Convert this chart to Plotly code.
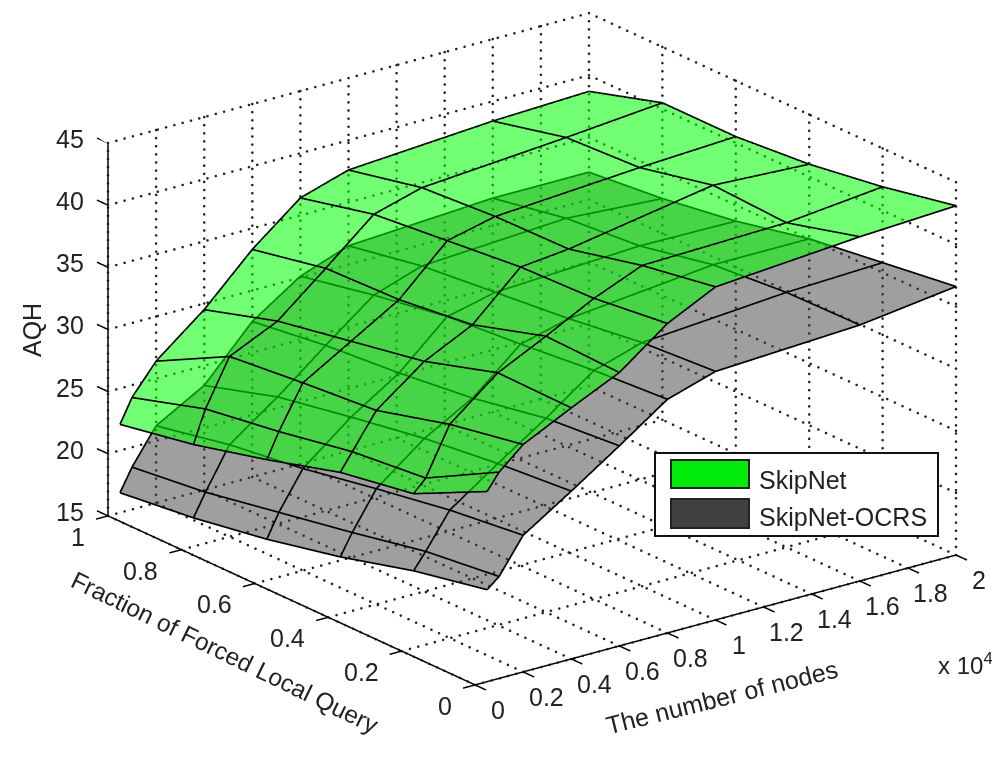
import numpy as np
import plotly.graph_objects as go

x_nodes = [500, 1000, 2000, 4000, 6000, 8000, 10000, 16000, 20000]
y_frac = [1.0, 0.8, 0.6, 0.4, 0.2, 0.0]
z_skipnet = [
    [22.1, 24.0, 26.4, 29.5, 33.3, 36.4, 37.6, 38.4, 38.7],
    [23.2, 25.8, 29.5, 31.3, 34.5, 37.8, 38.9, 39.8, 40.5],
    [24.7, 26.7, 30.1, 32.4, 34.7, 38.4, 39.3, 40.1, 40.5],
    [26.4, 27.8, 30.6, 33.5, 35.4, 39.0, 39.4, 41.4, 41.0],
    [27.4, 28.4, 32.2, 35.3, 37.2, 39.2, 40.8, 41.1, 41.9],
    [30.3, 31.6, 33.3, 35.2, 37.0, 39.9, 41.8, 42.7, 43.1],
]
z_ocrs = [
    [16.6, 18.4, 21.2, 23.4, 27.5, 30.1, 31.5, 32.2, 32.2],
    [17.3, 19.1, 22.4, 25.2, 28.3, 31.3, 32.6, 33.3, 32.8],
    [18.3, 20.2, 23.2, 26.3, 28.8, 32.3, 33.2, 33.8, 33.7],
    [19.6, 21.3, 24.3, 27.3, 29.5, 32.8, 33.8, 35.0, 35.0],
    [21.2, 22.5, 25.3, 28.0, 30.6, 33.4, 34.6, 35.5, 35.8],
    [22.4, 23.2, 26.0, 28.5, 31.1, 33.8, 35.0, 35.6, 36.6],
]
x_ticks = [0, 2000, 4000, 6000, 8000, 10000, 12000, 14000, 16000, 18000, 20000]
x_labels = ["0", "0.2", "0.4", "0.6", "0.8", "1", "1.2", "1.4", "1.6", "1.8", "2"]
y_ticks = [0, 0.2, 0.4, 0.6, 0.8, 1]
y_labels = ["0", "0.2", "0.4", "0.6", "0.8", "1"]
z_ticks = [15, 20, 25, 30, 35, 40, 45]
z_labels = ["15", "20", "25", "30", "35", "40", "45"]

FONT = "Liberation Sans"
INK = "#222"
XMAX, YMAX, ZMIN, ZMAX = 20000, 1, 15, 45
W, H = 992, 749


def segs(pairs):
    xs, ys, zs = [], [], []
    for a, b in pairs:
        xs += [a[0], b[0], None]
        ys += [a[1], b[1], None]
        zs += [a[2], b[2], None]
    return xs, ys, zs


def lines(pairs, color="black", width=2):
    xs, ys, zs = segs(pairs)
    return go.Scatter3d(x=xs, y=ys, z=zs, mode="lines", hoverinfo="skip", showlegend=False,
                        line=dict(color=color, width=width), connectgaps=False)


def mesh(z):
    p = []
    for j, row in enumerate(z):
        for i in range(len(x_nodes) - 1):
            p.append(((x_nodes[i], y_frac[j], row[i]), (x_nodes[i + 1], y_frac[j], row[i + 1])))
    for i in range(len(x_nodes)):
        for j in range(len(y_frac) - 1):
            p.append(((x_nodes[i], y_frac[j], z[j][i]), (x_nodes[i], y_frac[j + 1], z[j + 1][i])))
    return lines(p, width=3.5)


def surface(z, rgb, op):
    return go.Surface(x=x_nodes, y=y_frac, z=z, colorscale=[[0, rgb], [1, rgb]], showscale=False,
                      opacity=op, hoverinfo="skip",
                      lighting=dict(ambient=1, diffuse=0, specular=0, roughness=1, fresnel=0))


def dotted(pairs, n):
    xs, ys, zs = [], [], []
    for (a, b), k in zip(pairs, n):
        t = np.linspace(0, 1, k + 1)
        xs += list(a[0] + (b[0] - a[0]) * t)
        ys += list(a[1] + (b[1] - a[1]) * t)
        zs += list(a[2] + (b[2] - a[2]) * t)
    return go.Scatter3d(x=xs, y=ys, z=zs, mode="markers", hoverinfo="skip", showlegend=False,
                        marker=dict(color="#222", size=1.5, line=dict(width=0)))


grid, counts = [], []
for t in x_ticks:
    grid.append(((t, 0, ZMIN), (t, YMAX, ZMIN))); counts.append(48)
    grid.append(((t, YMAX, ZMIN), (t, YMAX, ZMAX))); counts.append(46)
for t in y_ticks:
    grid.append(((0, t, ZMIN), (XMAX, t, ZMIN))); counts.append(58)
    grid.append(((XMAX, t, ZMIN), (XMAX, t, ZMAX))); counts.append(46)
for t in z_ticks:
    grid.append(((0, YMAX, t), (XMAX, YMAX, t))); counts.append(58)
    grid.append(((XMAX, YMAX, t), (XMAX, 0, t))); counts.append(48)

frame = [((0, YMAX, ZMIN), (0, YMAX, ZMAX)), ((0, YMAX, ZMIN), (0, 0, ZMIN)), ((0, 0, ZMIN), (XMAX, 0, ZMIN))]
for t in x_ticks:
    frame.append(((t, 0, ZMIN), (t, -0.03, ZMIN)))
for t in y_ticks:
    frame.append(((0, t, ZMIN), (-500, t, ZMIN)))
for t in z_ticks:
    frame.append(((0, YMAX, t), (0, YMAX + 0.03, t)))

fig = go.Figure()
fig.add_trace(dotted(grid, counts))
fig.add_trace(lines(frame, width=3))
fig.add_trace(mesh(z_ocrs))
fig.add_trace(mesh(z_skipnet))
fig.add_trace(surface(z_ocrs, "rgb(64,64,64)", 0.5))
fig.add_trace(surface(z_skipnet, "rgb(0,255,0)", 0.55))


def axis(vals, text, rng):
    return dict(title=dict(text=""), tickvals=vals, ticktext=text, range=rng, autorange=False,
                showgrid=False, zeroline=False, showline=False, showbackground=False,
                showspikes=False, ticks="", showticklabels=False)


def tick_note(x, y, z, text, xanchor, xshift, yshift):
    return dict(x=x, y=y, z=z, text=text, showarrow=False, xanchor=xanchor, yanchor="middle",
                xshift=xshift, yshift=yshift, font=dict(family=FONT, size=25, color=INK))


notes = []
for t, s in zip(x_ticks, x_labels):
    notes.append(tick_note(t, 0, ZMIN, s, "center", 23, -25))
for t, s in zip(y_ticks, y_labels):
    notes.append(tick_note(0, t, ZMIN, s, "right", -21, -21))
for t, s in zip(z_ticks, z_labels):
    notes.append(tick_note(0, YMAX, t, s, "right", -22, 4))

dirx, diry, dirz = -0.569, -0.743, 0.3527
S = 374.5
shift_r, shift_u = 28.0, 33.5
cx = -(shift_r / S) * 0.794 - (shift_u / S) * 0.2144
cy = (shift_r / S) * 0.608 - (shift_u / S) * 0.28
cz = -(shift_u / S) * 0.9357
d = 2.0


def px(v):
    return (v - 8) / W


def py(v):
    return 1 - (v - 8) / H


def paper_note(text, x, y, size=25, angle=0, xanchor="center"):
    return dict(text=text, xref="paper", yref="paper", x=px(x), y=py(y),
                xanchor=xanchor, yanchor="middle", showarrow=False, textangle=angle,
                font=dict(family=FONT, size=size, color=INK))


def rect(x0, x1, y0, y1, fill, line):
    return dict(type="rect", xref="paper", yref="paper", x0=px(x0), x1=px(x1), y0=py(y1), y1=py(y0),
                fillcolor=fill, line=dict(color=line, width=2), layer="above")


fig.update_layout(
    width=W, height=H, margin=dict(l=0, r=0, t=0, b=0), paper_bgcolor="white",
    showlegend=False,
    scene=dict(
        domain=dict(x=[0, 1], y=[0, 1]),
        xaxis=axis(x_ticks, x_labels, [-800, 20800]),
        yaxis=axis(y_ticks, y_labels, [-0.04, 1.04]),
        zaxis=axis(z_ticks, z_labels, [ZMIN, ZMAX]),
        aspectmode="manual", aspectratio=dict(x=1.747, y=1.741, z=1.064),
        camera=dict(projection=dict(type="orthographic"),
                    up=dict(x=0, y=0, z=1), center=dict(x=cx, y=cy, z=cz),
                    eye=dict(x=cx + dirx * d, y=cy + diry * d, z=cz + dirz * d)),
        annotations=notes,
    ),
    shapes=[
        rect(655, 938, 453, 536, "white", "#111"),
        rect(671, 749, 460, 488, "rgb(0,235,10)", "#222"),
        rect(671, 749, 499, 528, "rgb(64,64,64)", "#222"),
    ],
    annotations=[
        paper_note("SkipNet", 757, 480, xanchor="left"),
        paper_note("SkipNet-OCRS", 757, 517, xanchor="left"),
        paper_note("x 10<sup>4</sup>", 936, 664, size=24, xanchor="left"),
        paper_note("AQH", 32, 330, angle=-90),
        paper_note("The number of nodes", 722, 697, angle=-14),
        paper_note("Fraction of Forced Local Query", 225, 652, size=24.5, angle=26),
    ],
)
fig.write_html("out.html")
